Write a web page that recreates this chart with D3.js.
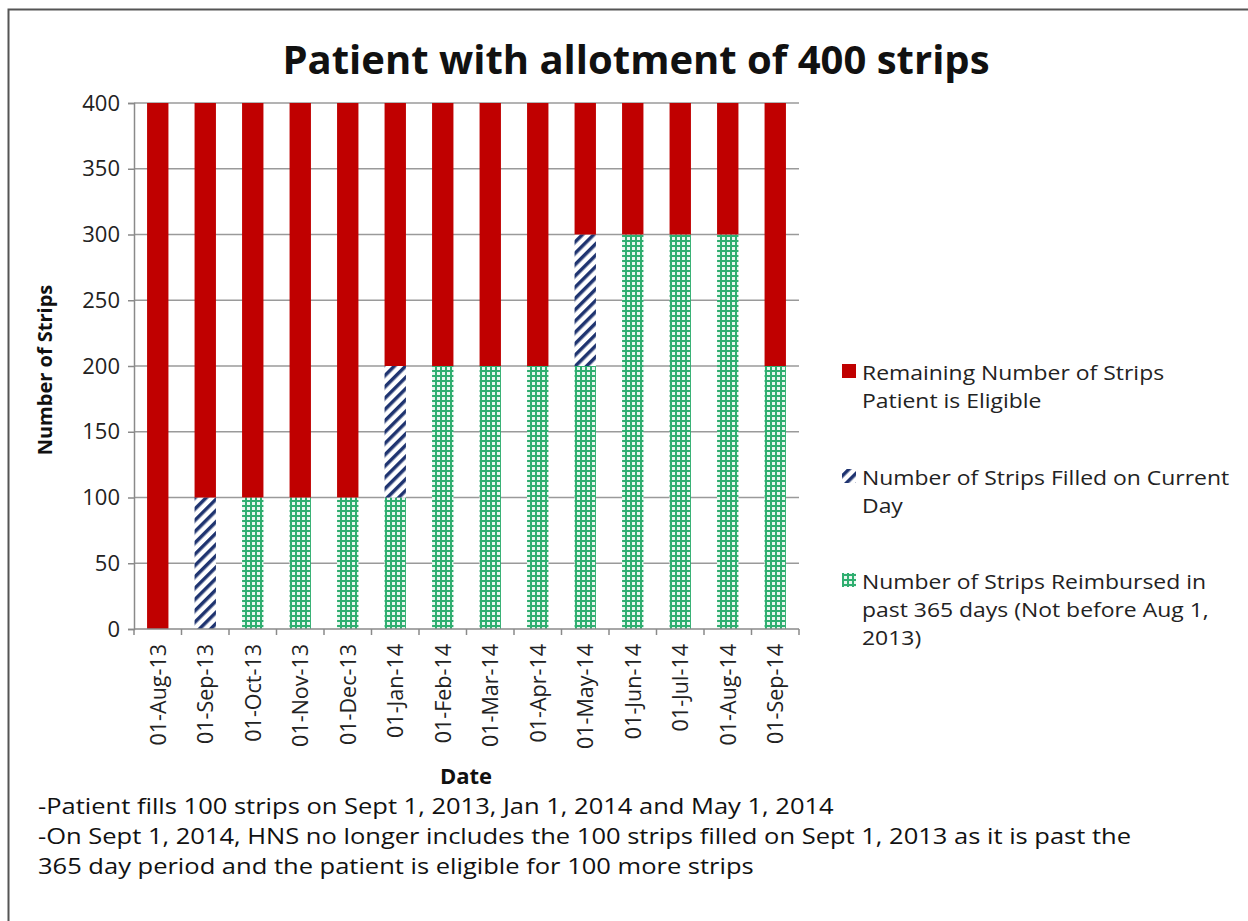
<!DOCTYPE html>
<style>
    body { margin: 0; background: #fff; }
    text { font-family: "Open Sans", Lato, sans-serif; }
</style>
<body>
<script src="https://d3js.org/d3.v7.min.js"></script>
<script>
    var dates = ["01-Aug-13", "01-Sep-13", "01-Oct-13", "01-Nov-13", "01-Dec-13", "01-Jan-14", "01-Feb-14",
        "01-Mar-14", "01-Apr-14", "01-May-14", "01-Jun-14", "01-Jul-14", "01-Aug-14", "01-Sep-14"];
    var reimbursed = [0, 0, 100, 100, 100, 100, 200, 200, 200, 200, 300, 300, 300, 200];
    var filled = [0, 100, 0, 0, 0, 100, 0, 0, 0, 100, 0, 0, 0, 0];
    var remaining = [400, 300, 300, 300, 300, 200, 200, 200, 200, 100, 100, 100, 100, 200];
    var yTicks = [0, 50, 100, 150, 200, 250, 300, 350, 400];
    var legendLabels = [
        ["Remaining Number of Strips", "Patient is Eligible"],
        ["Number of Strips Filled on Current", "Day"],
        ["Number of Strips Reimbursed in", "past 365 days (Not before Aug 1,", "2013)"]
    ];
    var notes = [
        "-Patient fills 100 strips on Sept 1, 2013, Jan 1, 2014 and May 1, 2014",
        "-On Sept 1, 2014, HNS no longer includes the 100 strips filled on Sept 1, 2013 as it is past the",
        "365 day period and the patient is eligible for 100 more strips"
    ];

    var W = 1248, H = 921;
    var svg = d3.select("body").append("svg").attr("width", W).attr("height", H);

    var defs = svg.append("defs");
    var hatch = defs.append("pattern").attr("id", "hatch")
        .attr("patternUnits", "userSpaceOnUse").attr("width", 8).attr("height", 8)
        .attr("patternTransform", "rotate(45)");
    hatch.append("rect").attr("width", 8).attr("height", 8).attr("fill", "#fff");
    hatch.append("rect").attr("width", 3.5).attr("height", 8).attr("fill", "#1f3470");

    var grid = defs.append("pattern").attr("id", "grid")
        .attr("patternUnits", "userSpaceOnUse").attr("width", 5).attr("height", 5);
    grid.append("rect").attr("width", 5).attr("height", 5).attr("fill", "#e9f7ef");
    grid.append("rect").attr("width", 2).attr("height", 5).attr("fill", "#2fae70");
    grid.append("rect").attr("width", 5).attr("height", 2).attr("fill", "#2fae70");

    // frame
    svg.append("rect").attr("x", 8.5).attr("y", 9.5).attr("width", 1300).attr("height", 1000)
        .attr("fill", "none").attr("stroke", "#555").attr("stroke-width", 2);

    var margin = {left: 134, top: 103, right: 799, bottom: 629};

    var x = d3.scaleBand().domain(dates).range([margin.left, margin.right]).paddingInner(0.55).paddingOuter(0.275);
    var y = d3.scaleLinear().domain([0, 400]).range([margin.bottom, margin.top]);

    // gridlines
    svg.append("g").selectAll("line").data(yTicks.slice(1)).enter().append("line")
        .attr("x1", margin.left).attr("x2", margin.right)
        .attr("y1", function(d) { return y(d); }).attr("y2", function(d) { return y(d); })
        .attr("stroke", "#9a9a9a").attr("stroke-width", 1.5);

    var rows = dates.map(function(d, i) {
        return {date: d, reimbursed: reimbursed[i], filled: filled[i], remaining: remaining[i]};
    });
    var keys = ["reimbursed", "filled", "remaining"];
    var fills = {reimbursed: "url(#grid)", filled: "url(#hatch)", remaining: "#c00000"};

    svg.append("g").selectAll("g")
        .data(d3.stack().keys(keys)(rows))
        .enter().append("g")
        .attr("fill", function(d) { return fills[d.key]; })
        .selectAll("rect")
        .data(function(d) { return d.filter(function(p) { return p[1] > p[0]; }); })
        .enter().append("rect")
        .attr("x", function(d) { return x(d.data.date); })
        .attr("y", function(d) { return y(d[1]); })
        .attr("height", function(d) { return y(d[0]) - y(d[1]); })
        .attr("width", x.bandwidth());

    // y axis
    var yAxis = svg.append("g").attr("transform", "translate(" + margin.left + ",0)")
        .call(d3.axisLeft(y).tickValues(yTicks).tickSize(6).tickPadding(8));
    yAxis.selectAll("line, path").attr("stroke", "#8a8a8a").attr("stroke-width", 1.5);
    yAxis.selectAll("text").attr("font-size", 22).attr("fill", "#222");

    // x axis with ticks between categories
    var step = x.step();
    var xAxisG = svg.append("g").attr("transform", "translate(0," + margin.bottom + ")");
    xAxisG.append("line").attr("x1", margin.left).attr("x2", margin.right)
        .attr("stroke", "#8a8a8a").attr("stroke-width", 1.5);
    xAxisG.selectAll("line.t").data(d3.range(dates.length + 1)).enter().append("line")
        .attr("class", "t")
        .attr("x1", function(i) { return margin.left + i * step; })
        .attr("x2", function(i) { return margin.left + i * step; })
        .attr("y1", 0).attr("y2", 6)
        .attr("stroke", "#8a8a8a").attr("stroke-width", 1.5);
    xAxisG.selectAll("text").data(dates).enter().append("text")
        .attr("transform", function(d) {
            return "translate(" + (x(d) + x.bandwidth() / 2 + 8) + ",15) rotate(-90)";
        })
        .attr("text-anchor", "end")
        .attr("font-size", 21.5).attr("fill", "#222")
        .text(function(d) { return d; });

    // titles
    svg.append("text").attr("x", 636).attr("y", 74).attr("text-anchor", "middle")
        .attr("font-size", 40).attr("font-weight", "bold").attr("fill", "#111")
        .text("Patient with allotment of 400 strips");
    svg.append("text").attr("transform", "translate(52,370) rotate(-90)")
        .attr("text-anchor", "middle").attr("font-size", 20).attr("font-weight", "bold").attr("fill", "#111")
        .text("Number of Strips");
    svg.append("text").attr("x", 466).attr("y", 784).attr("text-anchor", "middle")
        .attr("font-size", 22).attr("font-weight", "bold").attr("fill", "#111")
        .text("Date");

    // legend (text stretched a little to match the wide original face)
    var legTop = [380, 485, 589];
    var legendFills = ["#c00000", "url(#hatch)", "url(#grid)"];
    var leg = svg.append("g").selectAll("g").data(legendLabels).enter().append("g")
        .attr("transform", function(d, i) { return "translate(842," + legTop[i] + ")"; });
    leg.append("rect").attr("x", 0).attr("y", -16).attr("width", 14).attr("height", 14)
        .attr("fill", function(d, i) { return legendFills[i]; });
    leg.each(function(lines) {
        d3.select(this).append("g").attr("transform", "translate(20,0) scale(1.13,1)")
            .selectAll("text").data(lines).enter().append("text")
            .attr("x", 0).attr("y", function(d, j) { return j * 28; })
            .attr("font-size", 20.3).attr("fill", "#222")
            .text(function(d) { return d; });
    });

    // notes
    svg.append("g").attr("transform", "translate(38,0) scale(1.17,1)")
        .selectAll("text").data(notes).enter().append("text")
        .attr("x", 0).attr("y", function(d, i) { return 814 + i * 30; })
        .attr("font-size", 21.8).attr("fill", "#111")
        .text(function(d) { return d; });
</script>
</body>
